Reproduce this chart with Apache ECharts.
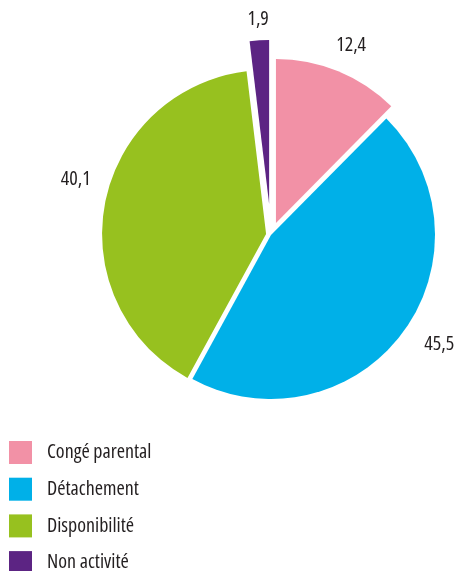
<!DOCTYPE html>
<html>
<head>
<meta charset="utf-8">
<script src="https://cdn.jsdelivr.net/npm/echarts@6/dist/echarts.min.js"></script>
<style>
html,body{margin:0;padding:0;background:#fff;}
#main{width:457px;height:571px;}
</style>
</head>
<body>
<div id="main"></div>
<script>
var categories = ['Congé parental', 'Détachement', 'Disponibilité', 'Non activité'];
var values = [12.4, 45.5, 40.1, 1.9];
var colors = ['#F291A6', '#00B0E8', '#97C11F', '#5C2483'];

// styling / layout (not data)
var FONT = "'Open Sans', Roboto, sans-serif";
var STRETCH = 'condensed'; // injected into canvas font shorthand
var TEXT_COLOR = '#231F20';
var CENTER = [271, 235];
var RADIUS = 164;
var sliceOffset = [13, 0, 5, 31];
var labelDist = [189.5, 197.8, 194.9, 181.8];
var labelAngleShift = [0.6, -3.6, 4.9, 0];

function fmt(v) { return v.toFixed(1).replace('.', ','); }

var series = [];
categories.forEach(function (name, i) {
  series.push({
    type: 'pie',
    center: CENTER,
    radius: [0, RADIUS],
    startAngle: 90,
    clockwise: true,
    silent: true,
    animation: false,
    selectedMode: 'multiple',
    selectedOffset: sliceOffset[i],
    label: { show: false },
    labelLine: { show: false },
    emphasis: { disabled: true },
    data: categories.map(function (n, j) {
      return {
        name: n,
        value: values[j],
        selected: j === i,
        itemStyle: { color: j === i ? colors[j] : 'rgba(0,0,0,0)', borderWidth: 0 }
      };
    })
  });
  series.push({
    type: 'pie',
    center: CENTER,
    radius: [labelDist[i] - 1, labelDist[i] + 1],
    startAngle: 90 - labelAngleShift[i],
    clockwise: true,
    silent: true,
    animation: false,
    selectedMode: 'multiple',
    selectedOffset: sliceOffset[i],
    labelLine: { show: false },
    emphasis: { disabled: true },
    data: categories.map(function (n, j) {
      return {
        name: n,
        value: values[j],
        selected: j === i,
        itemStyle: { color: 'rgba(0,0,0,0)', borderWidth: 0 },
        label: {
          show: j === i,
          position: 'inside',
          formatter: function (p) { return fmt(p.value); },
          fontFamily: FONT,
          fontWeight: STRETCH,
          fontSize: 20,
          color: TEXT_COLOR,
          padding: [8, 0, 0, 0]
        }
      };
    })
  });
});

var option = {
  backgroundColor: '#fff',
  animation: false,
  legend: {
    orient: 'vertical',
    left: 4,
    top: 436,
    height: 200,
    itemWidth: 23,
    itemHeight: 23,
    itemGap: 13.7,
    icon: 'rect',
    selectedMode: false,
    textStyle: {
      fontFamily: FONT,
      fontWeight: STRETCH,
      fontSize: 20,
      color: TEXT_COLOR,
      padding: [0, 0, 0, 10]
    },
    data: categories.map(function (n, i) {
      return { name: n, itemStyle: { color: colors[i] } };
    })
  },
  series: series
};

var chart = echarts.init(document.getElementById('main'), null, { renderer: 'canvas' });
chart.setOption(option);
</script>
</body>
</html>
